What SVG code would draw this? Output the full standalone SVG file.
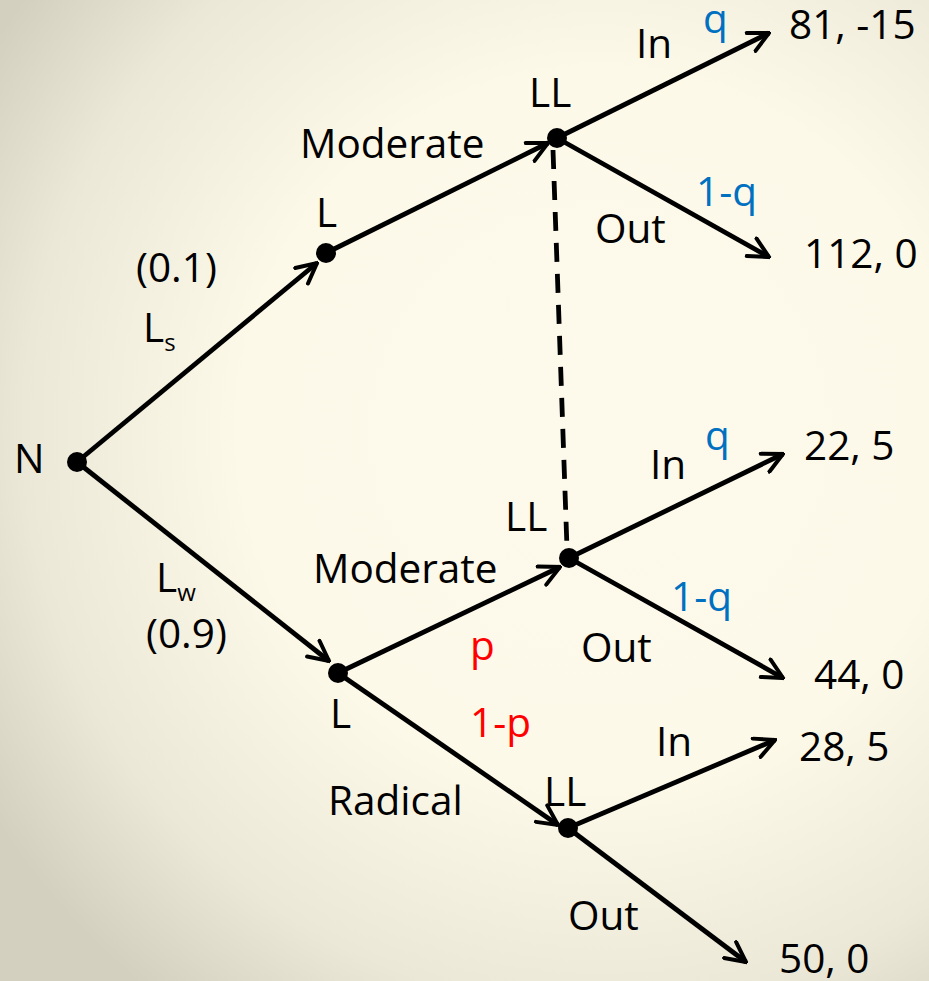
<svg xmlns="http://www.w3.org/2000/svg" width="929" height="981" viewBox="0 0 929 981">
<defs>
<radialGradient id="bg" cx="600" cy="430" r="720" gradientUnits="userSpaceOnUse">
<stop offset="0" stop-color="#fdfaec"/>
<stop offset="0.5" stop-color="#fcf9e9"/>
<stop offset="0.8" stop-color="#ebe8d8"/>
<stop offset="1" stop-color="#d3d0c0"/>
</radialGradient>
<marker id="arr" viewBox="0 0 12 12" refX="11" refY="6" markerWidth="5" markerHeight="5" markerUnits="strokeWidth" orient="auto">
<path d="M1,1 L11,6 L1,11" fill="none" stroke="#000" stroke-width="2" stroke-linecap="round" stroke-linejoin="miter"/>
</marker>
</defs>
<style>
text{font-family:"Open Sans","DejaVu Sans",sans-serif;font-size:40.5px;fill:#000}
.b{fill:#0070c0}
.r{fill:#ff0000}
.e{stroke:#000;stroke-width:4.8;fill:none}
.a{marker-end:url(#arr)}
.d{stroke:#000;stroke-width:4.8;stroke-dasharray:19,12;fill:none}
</style>
<rect width="929" height="981" fill="url(#bg)"/>
<g id="connectors">
<line class="e a" x1="77" y1="462" x2="317" y2="263"/>
<line class="e a" x1="77" y1="462" x2="329" y2="661"/>
<line class="e a" x1="326" y1="253" x2="548" y2="143"/>
<line class="e a" x1="557" y1="138" x2="769" y2="33"/>
<line class="e a" x1="557" y1="138" x2="769" y2="257"/>
<line class="d" x1="553" y1="150" x2="567" y2="548"/>
<line class="e a" x1="338" y1="673" x2="560" y2="567"/>
<line class="e a" x1="338" y1="673" x2="558" y2="825"/>
<line class="e a" x1="569" y1="558" x2="783" y2="454"/>
<line class="e a" x1="569" y1="558" x2="783" y2="678"/>
<line class="e a" x1="568" y1="828" x2="775" y2="740"/>
<line class="e a" x1="568" y1="828" x2="746" y2="962"/>
</g>
<g id="N"><circle cx="77" cy="462" r="10"/><text x="14" y="473">N</text></g>
<g id="L_upper"><circle cx="326" cy="253" r="10"/><text x="316" y="227">L</text></g>
<g id="LL_upper"><circle cx="557" cy="138" r="10"/><text x="529" y="107">LL</text></g>
<g id="L_lower"><circle cx="338" cy="673" r="10"/><text x="330" y="728">L</text></g>
<g id="LL_mid"><circle cx="569" cy="558" r="10"/><text x="505" y="531">LL</text></g>
<g id="LL_radical"><circle cx="568" cy="828" r="10"/><text x="544" y="806">LL</text></g>
<g id="labels">
<text x="136" y="282">(0.1)</text>
<text x="143" y="342">L<tspan font-size="24" dy="9">s</tspan></text>
<text x="156" y="592">L<tspan font-size="24" dy="9">w</tspan></text>
<text x="146" y="648">(0.9)</text>
<text x="300" y="158">Moderate</text>
<text x="313" y="583">Moderate</text>
<text x="328" y="815">Radical</text>
<text class="r" x="470" y="660">p</text>
<text class="r" x="470" y="737">1-p</text>
<text x="636" y="58">In</text>
<text class="b" x="703" y="33">q</text>
<text x="595" y="243">Out</text>
<text class="b" x="696" y="206">1-q</text>
<text x="650" y="479">In</text>
<text class="b" x="705" y="450">q</text>
<text x="581" y="662">Out</text>
<text class="b" x="671" y="611">1-q</text>
<text x="656" y="756">In</text>
<text x="568" y="930">Out</text>
</g>
<g id="payoffs">
<text x="789" y="39">81, -15</text>
<text x="804" y="268">112, 0</text>
<text x="804" y="460">22, 5</text>
<text x="814" y="689">44, 0</text>
<text x="799" y="761">28, 5</text>
<text x="779" y="973">50, 0</text>
</g>
</svg>
